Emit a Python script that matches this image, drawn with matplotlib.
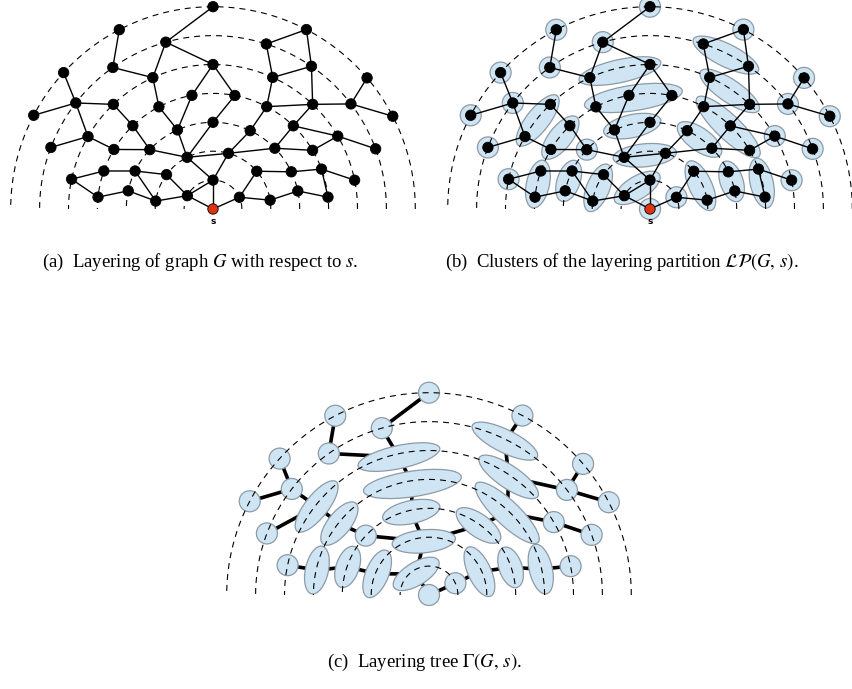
import numpy as np
import matplotlib
matplotlib.use("Agg")
import matplotlib.pyplot as plt
from matplotlib.patches import Circle, Ellipse

plt.rcParams["font.family"] = ["Liberation Serif", "DejaVu Serif"]
plt.rcParams["mathtext.fontset"] = "stix"
plt.rcParams["lines.scale_dashes"] = False

# vertices: (layer = BFS distance from s, angle in degrees on that layer)
node_layer = [0, 1, 1, 1, 2, 2, 2, 2, 2, 2,
              3, 3, 3, 3, 3, 3, 3, 3, 3,
              4, 4, 4, 4, 4, 4, 4, 4, 4, 4, 4, 4,
              5, 5, 5, 5, 5, 5, 5, 5, 5,
              6, 6, 6, 6, 6, 6, 6, 6,
              7, 7, 7, 7, 7, 7, 7]
node_angle = [90, 90, 152.5, 24, 116.6, 74.5, 143.5, 172.1, 40.8, 8.8,
              90, 114.2, 136.8, 154, 167.9, 64.6, 44.5, 25.4, 12,
              100.5, 117.9, 133.9, 149, 160.8, 174.1, 79.1, 62.3, 46.0, 30.5, 20.2, 5.9,
              90, 114.6, 133.6, 149.9, 168.1, 65.6, 46.4, 30.3, 11.5,
              105.8, 125.3, 142.3, 159.2, 72.1, 55.4, 37.3, 20.3,
              90, 117.6, 137.6, 152.4, 62.5, 40.4, 27.3]

edges = [(0, 1), (0, 2), (0, 3), (1, 2), (1, 4), (1, 5),
         (2, 6), (2, 7), (3, 8), (3, 9),
         (4, 5), (4, 11), (4, 10), (4, 12), (5, 15), (5, 16),
         (6, 13), (7, 13), (7, 14), (8, 17), (9, 18),
         (10, 25), (11, 19), (11, 20), (12, 21), (12, 22),
         (13, 23), (23, 35), (35, 24), (24, 14),
         (15, 26), (16, 27), (16, 28), (17, 29), (18, 30), (29, 30), (29, 39),
         (19, 31), (25, 31), (20, 32), (21, 33), (22, 34),
         (26, 36), (26, 37), (27, 37), (27, 38), (28, 38),
         (31, 40), (32, 40), (32, 41), (33, 42), (34, 42), (34, 43),
         (36, 44), (36, 45), (37, 45), (37, 46), (38, 47),
         (40, 48), (41, 49), (42, 50), (42, 51),
         (44, 52), (45, 52), (46, 53), (46, 54)]

# clusters of the layering partition
clusters = [[0], [1, 2], [3], [4, 5], [6, 7], [8, 9], [10, 11], [12], [13, 14],
            [15, 16], [17, 18], [19, 20, 25], [21, 22], [23, 24], [26, 27, 28],
            [29, 30], [31, 32], [33, 34], [35], [36, 37], [38], [39], [40], [41],
            [42], [43], [44, 45], [46], [47], [48], [49], [50], [51], [52], [53], [54]]

tree_edges = [(1, 0), (2, 0), (3, 1), (4, 1), (5, 2), (6, 3), (7, 3), (8, 4),
              (9, 3), (10, 5), (11, 6), (12, 7), (13, 8), (14, 9), (15, 10),
              (16, 11), (17, 12), (18, 13), (19, 14), (20, 14), (21, 15),
              (22, 16), (23, 16), (24, 17), (25, 17), (26, 19), (27, 19),
              (28, 20), (29, 22), (30, 23), (31, 24), (32, 24), (33, 26),
              (34, 27), (35, 27)]

captions = [r"(a)  Layering of graph $G$ with respect to $s$.",
            r"(b)  Clusters of the layering partition $\mathcal{LP}(G,\,s)$.",
            r"(c)  Layering tree $\Gamma(G,\,s)$."]

STEP = 28.9          # pixels between two layers
N_LAYERS = 7
FILL = "#cfe5f3"
RIM = "#8d9ba7"


def positions(origin):
    ox, oy = origin
    r = STEP * np.array(node_layer, dtype=float)
    a = np.radians(node_angle)
    return np.column_stack([ox + r * np.cos(a), oy - r * np.sin(a)])


def draw_layers(ax, origin, z):
    t = np.linspace(0, np.pi, 400)
    for k in range(1, N_LAYERS + 1):
        ax.plot(origin[0] + STEP * k * np.cos(t), origin[1] - STEP * k * np.sin(t),
                color="black", lw=0.8, dashes=(4.3, 3.6), zorder=z)


def cluster_shape(pts):
    if len(pts) == 1:
        return pts[0], 21, 21, 0.0
    best = (0, 1)
    dmax = 0
    for i in range(len(pts)):
        for j in range(i + 1, len(pts)):
            d = np.linalg.norm(pts[j] - pts[i])
            if d > dmax:
                dmax, best = d, (i, j)
    p1, p2 = pts[best[0]], pts[best[1]]
    u = (p2 - p1) / dmax
    n = np.array([-u[1], u[0]])
    along = (pts - p1) @ u
    perp = (pts - p1) @ n
    c = p1 + u * (along.min() + along.max()) / 2 + n * (perp.min() + perp.max()) / 2
    w = (along.max() - along.min()) + 22
    h = 23 + 0.4 * (perp.max() - perp.min())
    return c, w, h, np.degrees(np.arctan2(u[1], u[0]))


def draw_clusters(ax, pos, z):
    centers = []
    for cl in clusters:
        c, w, h, ang = cluster_shape(pos[cl])
        centers.append(c)
        ax.add_patch(Ellipse(c, w, h, angle=ang, facecolor=FILL, edgecolor=RIM,
                             lw=0.9, zorder=z))
    return np.array(centers)


def draw_graph(ax, pos, z):
    for u, v in edges:
        ax.plot([pos[u, 0], pos[v, 0]], [pos[u, 1], pos[v, 1]],
                color="black", lw=1.0, zorder=z, solid_capstyle="round")
    for i, p in enumerate(pos):
        color = "#dd3311" if i == 0 else "black"
        ax.add_patch(Circle(p, 5.2, facecolor=color, edgecolor="black",
                            lw=0.6, zorder=z + 1))
    ax.text(pos[0, 0], pos[0, 1] + 13, "s", ha="center", va="center",
            fontsize=6.5, fontweight="bold", family="DejaVu Sans", zorder=z + 1)


fig = plt.figure(figsize=(8.53, 6.89), dpi=100)
ax = fig.add_axes([0, 0, 1, 1])
ax.set_xlim(0, 853)
ax.set_ylim(689, 0)
ax.axis("off")

# (a) layered graph
pa = positions((213, 209))
draw_layers(ax, (213, 209), 1)
draw_graph(ax, pa, 3)

# (b) clusters over the same graph
pb = positions((650, 209))
draw_clusters(ax, pb, 1)
draw_layers(ax, (650, 209), 2)
draw_graph(ax, pb, 3)

# (c) layering tree
pc = positions((429, 595))
centers = np.array([cluster_shape(pc[cl])[0] for cl in clusters])
for a, b in tree_edges:
    ax.plot([centers[a, 0], centers[b, 0]], [centers[a, 1], centers[b, 1]],
            color="black", lw=2.6, zorder=1)
draw_clusters(ax, pc, 2)
draw_layers(ax, (429, 595), 3)

ax.text(200, 262, captions[0], ha="center", va="center", fontsize=13.5)
ax.text(622, 262, captions[1], ha="center", va="center", fontsize=13.5)
ax.text(424, 662, captions[2], ha="center", va="center", fontsize=13.5)

fig.savefig("out.png", dpi=100)
